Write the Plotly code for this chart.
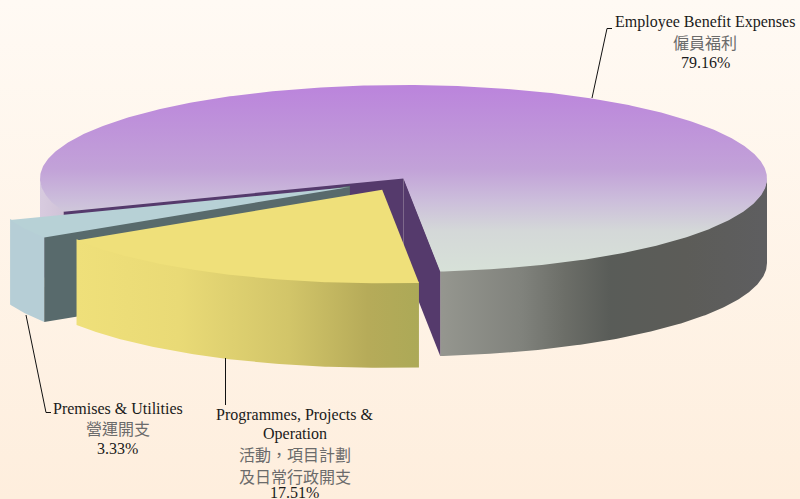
import numpy as np
import plotly.graph_objects as go

# Expense shares, in percent
categories_en = ["Employee Benefit Expenses", "Programmes, Projects &<br>Operation", "Premises & Utilities"]
categories_zh = ["僱員福利", "活動\uff0c項目計劃<br>及日常行政開支", "營運開支"]
shares = [79.16, 17.51, 3.33]

WIDTH, HEIGHT = 800, 499
CX, CY, RX, RY, DEPTH = 403.5, 178.5, 363.5, 93.5, 84.5
START_DEG = 5.8  # clockwise angle of the first slice edge, measured from straight down toward the right
EXPLODE = [0.0, 0.135, 0.165]
SMALL_SLICE_DROP = 1.5  # extra downward offset of the smallest slice
SEAM = 1.2  # walls reach slightly under the top faces so no gap shows between them

SERIF = "Liberation Serif, Times New Roman, serif"
CJK = "Noto Sans CJK TC, sans-serif"
FONT_SIZE = 16


def rim(theta_deg, r=1.0):
    """Screen position for an angle measured from straight down, positive toward the right."""
    t = np.radians(theta_deg)
    return RX * r * np.sin(t), RY * r * np.cos(t)


def arc(a, b, n=160):
    return np.linspace(a, b, n)


fig = go.Figure()


def poly(xs, ys, color=None, gradient=None):
    kw = dict(fillgradient=gradient) if gradient else dict(fillcolor=color)
    fig.add_trace(go.Scatter(x=list(xs), y=list(ys), mode="lines", fill="toself",
                             line=dict(width=0), hoverinfo="skip", showlegend=False, **kw))


def hgrad(stops, start=None, stop=None):
    return dict(type="horizontal", start=start, stop=stop, colorscale=stops)


def vgrad(stops, start=None, stop=None):
    return dict(type="vertical", start=start, stop=stop, colorscale=stops)


def wall(ox, oy, a, b, n=160, **style):
    px, py = rim(arc(a, b, n))
    poly(np.r_[ox + px, (ox + px)[::-1], ox + px[0]],
         np.r_[oy + py - SEAM, (oy + py + DEPTH)[::-1], oy + py[0] - SEAM], **style)


def cut(ox, oy, ang, color):
    px, py = rim(ang)
    poly([ox, ox + px, ox + px, ox, ox],
         [oy - SEAM, oy + py - SEAM, oy + py + DEPTH, oy + DEPTH, oy - SEAM], color=color)


def top(ox, oy, a, b, n=160, **style):
    px, py = rim(arc(a, b, n))
    poly(np.r_[ox, ox + px, ox], np.r_[oy, oy + py, oy], **style)


# Page background
poly([0, WIDTH, WIDTH, 0, 0], [0, 0, HEIGHT, HEIGHT, 0],
     gradient=vgrad([[0, "#fffaf4"], [1, "#feeedd"]], 0, HEIGHT))

# Slice edges follow from the shares, running from the bottom toward the left
edges = [START_DEG]
for s in shares[1:] + shares[:1]:
    edges.append(edges[-1] - s * 3.6)
yellow_a, yellow_b = edges[0], edges[1]
blue_a, blue_b = edges[1], edges[2]

# Main slice: spans the long way round from the right cut to the left cut
wall(CX, CY, START_DEG, 90,
     gradient=hgrad([[0, "#95968f"], [0.25, "#80827c"], [0.38, "#6c6e68"], [0.52, "#595c58"],
                     [0.75, "#5c5c58"], [1, "#5e5e60"]]))
wall(CX, CY, -90, blue_b, gradient=hgrad([[0, "#d8cbdf"], [1, "#d0c3d8"]]))
for ang in (START_DEG, blue_b):
    cut(CX, CY, ang, "#553a6c")
top(CX, CY, START_DEG, blue_b + 360, 500,
    gradient=vgrad([[0, "#bb84dc"], [0.45, "#c2a2d8"], [0.62, "#ccbedb"], [0.78, "#d4d8d8"], [1, "#d7e1d8"]],
                   CY - RY, CY + RY))

# Small slice, pulled out the furthest
dx, dy = rim((blue_a + blue_b) / 2, EXPLODE[2])
bx, by = CX + dx, CY + dy + SMALL_SLICE_DROP
wall(bx, by, blue_b, blue_a, 30, color="#b6ced6")
cut(bx, by, blue_a, "#586a6c")
top(bx, by, blue_b, blue_a, 30, color="#b7d1d6")

# Middle slice
dx, dy = rim((yellow_a + yellow_b) / 2, EXPLODE[1])
yx, yy = CX + dx, CY + dy
wall(yx, yy, yellow_b, yellow_a, 120,
     gradient=hgrad([[0, "#efe07a"], [0.3, "#e9da76"], [0.62, "#d2c569"], [0.85, "#b6ab59"], [1, "#aca957"]]))
top(yx, yy, yellow_b, yellow_a, 120, color="#efe07a")

# Leader lines
for lx, ly in [([592, 607, 612], [98, 28.5, 28.5]), ([26, 46, 51], [315, 412.5, 412.5]),
               ([225.5, 225.5], [358, 405])]:
    fig.add_trace(go.Scatter(x=lx, y=ly, mode="lines", line=dict(color="#111111", width=1),
                             hoverinfo="skip", showlegend=False))


def label(x, y, text, font, color="#1a1a1a", size=FONT_SIZE):
    fig.add_annotation(x=x, y=y, text=text, showarrow=False, xanchor="center", yanchor="middle",
                       font=dict(family=font, size=size, color=color), xref="x", yref="y",
                       align="center")


# Labels: English name, Chinese name, share
label(705, 22, categories_en[0], SERIF)
label(705, 42, categories_zh[0], CJK, "#6b6b6b")
label(705, 62, f"{shares[0]:.2f}%", SERIF)

label(117.5, 408, categories_en[2], SERIF)
label(117.5, 428, categories_zh[2], CJK, "#6b6b6b")
label(117.5, 448, f"{shares[2]:.2f}%", SERIF)

en_lines = categories_en[1].split("<br>")
zh_lines = categories_zh[1].split("<br>")
label(294.5, 415, en_lines[0], SERIF)
label(294.5, 434, en_lines[1], SERIF)
label(294.5, 454, zh_lines[0], CJK, "#6b6b6b")
label(294.5, 476, zh_lines[1], CJK, "#6b6b6b")
label(294.5, 492.5, f"{shares[1]:.2f}%", SERIF)

fig.update_layout(
    width=WIDTH, height=HEIGHT, margin=dict(l=0, r=0, t=0, b=0),
    paper_bgcolor="#fff5ea", plot_bgcolor="#fff5ea", showlegend=False,
    xaxis=dict(range=[0, WIDTH], visible=False, fixedrange=True),
    yaxis=dict(range=[HEIGHT, 0], visible=False, fixedrange=True),
)
fig.write_html("out.html", config={"displayModeBar": False})
